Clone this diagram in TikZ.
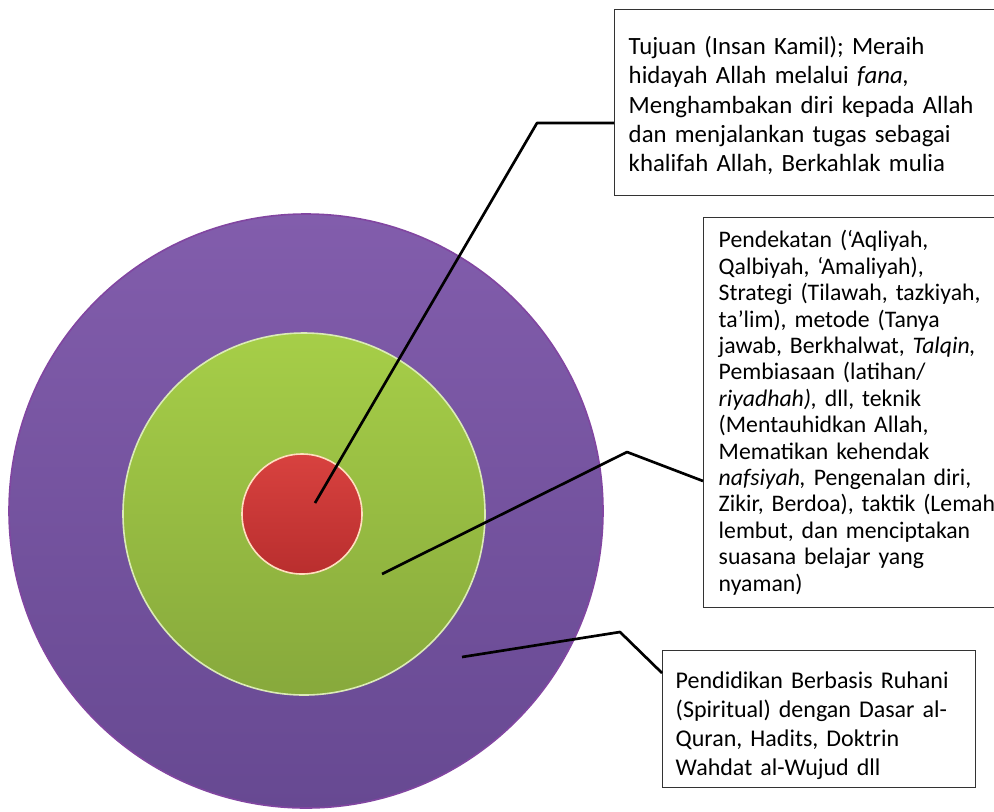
\documentclass[tikz,border=0pt]{standalone}
\usepackage{fontspec}
\setmainfont{Carlito}
\definecolor{violetTop}{HTML}{825DAC}
\definecolor{violetBot}{HTML}{674992}
\definecolor{greenTop}{HTML}{A6CE48}
\definecolor{greenBot}{HTML}{87A93C}
\definecolor{redTop}{HTML}{D8423F}
\definecolor{redBot}{HTML}{B92E2E}

\begin{document}
\begin{tikzpicture}[x=0.75pt,y=-0.75pt,
  disc/.style={circle,inner sep=0pt,line width=1.2pt},
  txtbox/.style={draw=black!80,line width=1.1pt,anchor=north west,align=left,inner ysep=2pt},
  lead/.style={line width=2pt,line join=round}]
\useasboundingbox (0,0) rectangle (994,811);
\path
(306,511) node[disc,minimum size=445.5pt,top color=violetTop,bottom color=violetBot,draw=violet!25!violetTop] (ruhani) {}
(304,514) node[disc,minimum size=271.5pt,top color=greenTop,bottom color=greenBot,draw=greenTop!40] (metode) {}
(302,514) node[disc,minimum size=90pt,top color=redTop,bottom color=redBot,draw=orange!25] (tujuan) {};

\node[txtbox,text width=290pt,minimum height=139.5pt,inner xsep=10.5pt,
  font=\fontsize{18.6}{22}\selectfont] (boxT) at (614,9)
  {\rule{0pt}{18pt}Tujuan (Insan Kamil); Meraih\\ hidayah Allah melalui \textit{fana,}\\
   Menghambakan diri kepada Allah\\ dan menjalankan tugas sebagai\\
   khalifah Allah, Berkahlak mulia};
\node[txtbox,text width=225pt,minimum height=292.5pt,inner xsep=11.25pt,
  font=\fontsize{17.8}{19.8}\selectfont] (boxP) at (703,217)
  {Pendekatan (‘Aqliyah,\\ Qalbiyah, ‘Amaliyah),\\ Strategi (Tilawah, tazkiyah,\\
   ta’lim), metode (Tanya\\ jawab, Berkhalwat, \textit{Talqin,}\\ Pembiasaan (latihan/\\
   \textit{riyadhah),} dll, teknik\\ (Mentauhidkan Allah,\\ Mematikan kehendak\\
   \textit{nafsiyah,} Pengenalan diri,\\ Zikir, Berdoa), taktik (Lemah\\
   lembut, dan menciptakan\\ suasana belajar yang\\ nyaman)};
\node[txtbox,text width=215pt,minimum height=102.75pt,inner xsep=9.75pt,
  font=\fontsize{18}{21.75}\selectfont] (boxR) at (662,650)
  {\rule{0pt}{22pt}Pendidikan Berbasis Ruhani\\ (Spiritual) dengan Dasar al-\\
   Quran, Hadits, Doktrin\\ Wahdat al-Wujud dll};

% leader lines
\coordinate (a1) at (315,503);
\coordinate (k1) at (537,123);
\coordinate (a2) at (382,574);
\coordinate (k2) at (627,452);
\coordinate (a3) at (462,657);
\coordinate (k3) at (620,632);
\draw[lead] (a1)--(k1)--(k1 -| boxT.west);
\draw[lead] (a2)--(k2)--(boxP.west |- 0,481);
\draw[lead] (a3)--(k3)--(boxR.west |- 0,673);
\end{tikzpicture}
\end{document}
